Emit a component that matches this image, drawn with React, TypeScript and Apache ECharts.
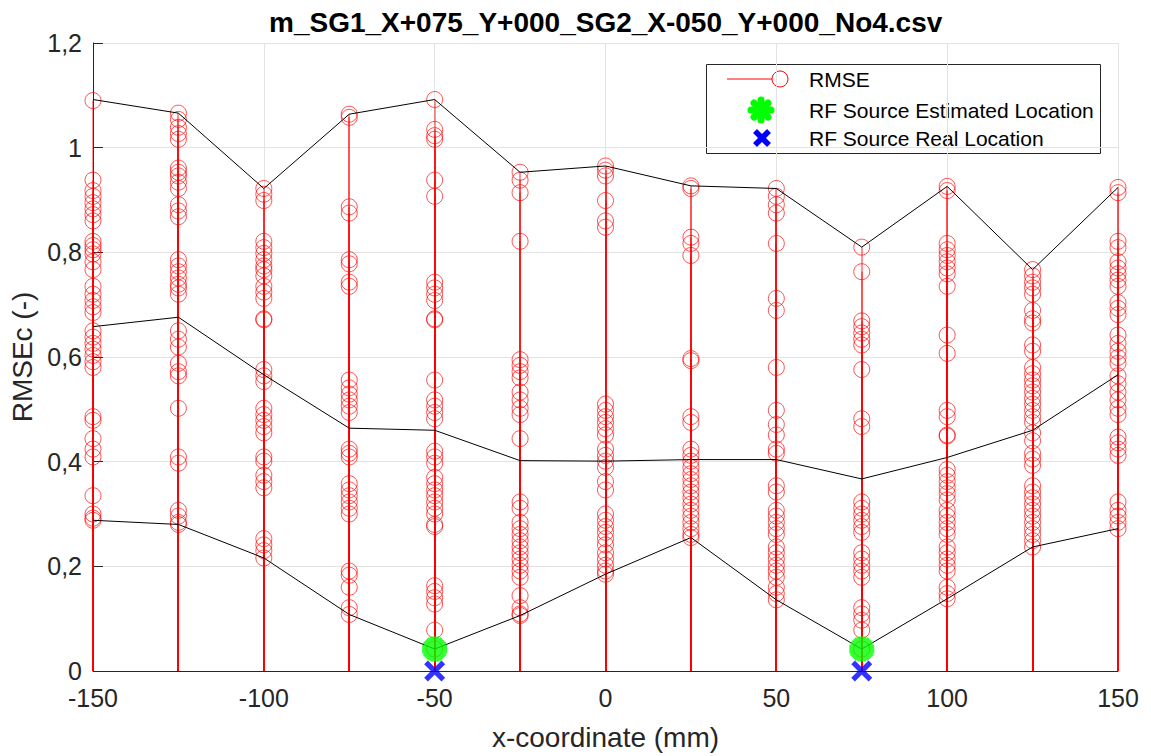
import React, { useEffect, useRef } from "react";
import * as echarts from "echarts";

const titleText = "m_SG1_X+075_Y+000_SG2_X-050_Y+000_No4.csv";
const xPositions = [-150, -125, -100, -75, -50, -25, 0, 25, 50, 75, 100, 125, 150];

const rmseAtM150 = [1.090, 0.938, 0.918, 0.907, 0.895, 0.883, 0.872, 0.860, 0.821, 0.813, 0.805, 0.797, 0.782, 0.767, 0.735, 0.720, 0.708, 0.696, 0.685, 0.650, 0.638, 0.626, 0.615, 0.603, 0.591, 0.580, 0.486, 0.479, 0.444, 0.424, 0.409, 0.335, 0.300, 0.292, 0.288];
const rmseAtM125 = [1.066, 1.054, 1.039, 1.027, 1.016, 0.961, 0.953, 0.946, 0.934, 0.922, 0.891, 0.879, 0.868, 0.786, 0.774, 0.763, 0.751, 0.739, 0.732, 0.720, 0.650, 0.634, 0.619, 0.588, 0.572, 0.564, 0.502, 0.409, 0.397, 0.307, 0.296, 0.284, 0.280];
const rmseAtM100 = [0.922, 0.911, 0.899, 0.821, 0.809, 0.798, 0.786, 0.774, 0.767, 0.755, 0.735, 0.724, 0.712, 0.673, 0.671, 0.576, 0.564, 0.553, 0.502, 0.490, 0.479, 0.467, 0.455, 0.409, 0.401, 0.374, 0.362, 0.350, 0.253, 0.241, 0.230, 0.216];
const rmseAtM75 = [1.064, 1.058, 0.887, 0.875, 0.786, 0.778, 0.743, 0.735, 0.556, 0.541, 0.529, 0.518, 0.506, 0.494, 0.424, 0.416, 0.409, 0.358, 0.346, 0.335, 0.323, 0.311, 0.300, 0.191, 0.183, 0.160, 0.121, 0.108];
const rmseAtM50 = [1.092, 1.035, 1.023, 1.016, 0.938, 0.907, 0.743, 0.732, 0.720, 0.708, 0.673, 0.671, 0.556, 0.518, 0.506, 0.494, 0.482, 0.420, 0.409, 0.397, 0.370, 0.358, 0.346, 0.335, 0.323, 0.311, 0.300, 0.280, 0.276, 0.163, 0.152, 0.140, 0.128, 0.078, 0.042];
const rmseAtM25 = [0.953, 0.938, 0.914, 0.821, 0.595, 0.584, 0.572, 0.560, 0.533, 0.518, 0.502, 0.490, 0.444, 0.323, 0.311, 0.284, 0.272, 0.261, 0.249, 0.237, 0.226, 0.214, 0.202, 0.191, 0.179, 0.144, 0.121, 0.109, 0.106];
const rmseAt0 = [0.965, 0.957, 0.946, 0.899, 0.860, 0.848, 0.510, 0.498, 0.486, 0.475, 0.463, 0.451, 0.424, 0.412, 0.401, 0.389, 0.362, 0.346, 0.300, 0.288, 0.276, 0.265, 0.253, 0.241, 0.226, 0.214, 0.202, 0.191, 0.185];
const rmseAt25 = [0.927, 0.922, 0.829, 0.817, 0.794, 0.597, 0.593, 0.486, 0.475, 0.424, 0.412, 0.401, 0.389, 0.377, 0.366, 0.354, 0.342, 0.331, 0.319, 0.307, 0.296, 0.284, 0.272, 0.261, 0.255];
const rmseAt50 = [0.922, 0.907, 0.891, 0.875, 0.817, 0.712, 0.689, 0.580, 0.498, 0.471, 0.451, 0.424, 0.416, 0.354, 0.342, 0.307, 0.296, 0.284, 0.272, 0.261, 0.237, 0.226, 0.214, 0.202, 0.191, 0.179, 0.160, 0.148, 0.136];
const rmseAt75 = [0.810, 0.763, 0.669, 0.658, 0.646, 0.634, 0.623, 0.576, 0.482, 0.467, 0.323, 0.311, 0.300, 0.288, 0.276, 0.265, 0.226, 0.214, 0.202, 0.191, 0.179, 0.121, 0.109, 0.097, 0.078, 0.042];
const rmseAt100 = [0.926, 0.918, 0.817, 0.805, 0.794, 0.782, 0.770, 0.759, 0.735, 0.642, 0.607, 0.498, 0.486, 0.451, 0.449, 0.385, 0.374, 0.362, 0.350, 0.339, 0.327, 0.307, 0.296, 0.284, 0.272, 0.261, 0.237, 0.226, 0.214, 0.202, 0.191, 0.160, 0.148, 0.138];
const rmseAt125 = [0.767, 0.755, 0.743, 0.732, 0.720, 0.689, 0.673, 0.665, 0.623, 0.611, 0.580, 0.568, 0.556, 0.545, 0.533, 0.521, 0.510, 0.498, 0.486, 0.475, 0.455, 0.440, 0.416, 0.405, 0.393, 0.354, 0.342, 0.331, 0.319, 0.307, 0.296, 0.284, 0.272, 0.261, 0.249, 0.237];
const rmseAt150 = [0.924, 0.914, 0.821, 0.809, 0.782, 0.770, 0.759, 0.747, 0.735, 0.704, 0.693, 0.681, 0.642, 0.626, 0.611, 0.599, 0.588, 0.564, 0.549, 0.533, 0.518, 0.502, 0.490, 0.447, 0.436, 0.424, 0.412, 0.323, 0.307, 0.296, 0.284, 0.272];

const maxLine = [1.092, 1.066, 0.922, 1.064, 1.092, 0.953, 0.965, 0.927, 0.922, 0.810, 0.926, 0.767, 0.924];
const meanLine = [0.658, 0.676, 0.566, 0.464, 0.460, 0.402, 0.401, 0.404, 0.404, 0.367, 0.408, 0.460, 0.566];
const minLine = [0.288, 0.280, 0.216, 0.108, 0.042, 0.106, 0.185, 0.255, 0.136, 0.042, 0.138, 0.237, 0.272];

const estimatedX = [-50, 75];
const estimatedY = [0.042, 0.042];
const realX = [-50, 75];
const realY = [0, 0];

const legendLabels = ["RMSE", "RF Source Estimated Location", "RF Source Real Location"];

const rmseColumns = [rmseAtM150, rmseAtM125, rmseAtM100, rmseAtM75, rmseAtM50, rmseAtM25, rmseAt0, rmseAt25, rmseAt50, rmseAt75, rmseAt100, rmseAt125, rmseAt150];

const FONT = "'Liberation Sans', Arial, Helvetica, sans-serif";

const ASTERISK =
  "path://M-3.5,-10L3.5,-10L3.5,10L-3.5,10Z" +
  "M-10,-3.5L10,-3.5L10,3.5L-10,3.5Z" +
  "M-9.55,-4.6L-4.6,-9.55L9.55,4.6L4.6,9.55Z" +
  "M-4.6,9.55L-9.55,4.6L4.6,-9.55L9.55,-4.6Z";
const CROSS =
  "path://M-12.1,-7.9L-7.9,-12.1L12.1,7.9L7.9,12.1Z" +
  "M-7.9,12.1L-12.1,7.9L7.9,-12.1L12.1,-7.9Z";

export default function App() {
  const ref = useRef<HTMLDivElement>(null);
  useEffect(() => {
    if (!ref.current) return;
    const chart = echarts.init(ref.current, undefined, { renderer: "svg" });
    const points: number[][] = [];
    rmseColumns.forEach((col, i) => col.forEach((v) => points.push([xPositions[i], v])));
    const zip = (ys: number[]) => xPositions.map((x, i) => [x, ys[i]]);

    const lx = 706, ly = 64;
    const option: any = {
      animation: false,
      backgroundColor: "#ffffff",
      textStyle: { fontFamily: FONT },
      title: {
        text: titleText,
        left: 264,
        top: 3,
        textStyle: { fontFamily: FONT, fontWeight: "bold", fontSize: 28, color: "#000" },
      },
      grid: { left: 93, right: 33, top: 43, bottom: 79, containLabel: false },
      xAxis: {
        type: "value",
        min: -150,
        max: 150,
        interval: 50,
        name: "x-coordinate (mm)",
        nameLocation: "middle",
        nameGap: 52,
        nameTextStyle: { fontFamily: FONT, fontSize: 28, color: "#262626" },
        axisLine: { show: true, onZero: false, lineStyle: { color: "#262626", width: 1 } },
        axisTick: { show: true, inside: true, length: 10, lineStyle: { color: "#262626" } },
        axisLabel: { fontFamily: FONT, fontSize: 25, color: "#262626", margin: 14 },
        splitLine: { show: true, lineStyle: { color: "#e3e3e3", width: 1 } },
      },
      yAxis: {
        type: "value",
        min: 0,
        max: 1.2,
        interval: 0.2,
        name: "RMSEc (-)",
        nameLocation: "middle",
        nameGap: 50,
        nameTextStyle: { fontFamily: FONT, fontSize: 28, color: "#262626" },
        axisLine: { show: true, onZero: false, lineStyle: { color: "#262626", width: 1 } },
        axisTick: { show: true, inside: true, length: 10, lineStyle: { color: "#262626" } },
        axisLabel: {
          fontFamily: FONT,
          fontSize: 25,
          color: "#262626",
          margin: 11,
          formatter: (v: number) => String(parseFloat(v.toFixed(1))).replace(".", ","),
        },
        splitLine: { show: true, lineStyle: { color: "#e3e3e3", width: 1 } },
      },
      series: [
        {
          type: "custom",
          name: "stems",
          data: points,
          encode: { x: 0, y: 1 },
          z: 2,
          renderItem: (params: any, api: any) => {
            const x = api.value(0);
            const y = api.value(1);
            const p0 = api.coord([x, 0]);
            const p1 = api.coord([x, y]);
            const px = Math.round(p0[0]);
            return {
              type: "line",
              shape: { x1: px, y1: p0[1], x2: px, y2: p1[1] },
              style: { stroke: "rgba(255,0,0,0.85)", lineWidth: 1 },
            };
          },
        },
        {
          type: "scatter",
          name: "RMSE",
          data: points,
          symbol: "circle",
          symbolSize: 16,
          z: 3,
          itemStyle: { color: "rgba(0,0,0,0)", borderColor: "rgba(255,0,0,0.85)", borderWidth: 1 },
        },
        { type: "line", name: "max", data: zip(maxLine), showSymbol: false, symbol: "none", z: 4, lineStyle: { color: "#000", width: 1 } },
        { type: "line", name: "mean", data: zip(meanLine), showSymbol: false, symbol: "none", z: 4, lineStyle: { color: "#000", width: 1 } },
        { type: "line", name: "min", data: zip(minLine), showSymbol: false, symbol: "none", z: 4, lineStyle: { color: "#000", width: 1 } },
        {
          type: "scatter",
          name: legendLabels[1],
          data: estimatedX.map((x, i) => [x, estimatedY[i]]),
          symbol: ASTERISK,
          symbolSize: 25,
          z: 5,
          itemStyle: { color: "#00ff00" },
        },
        {
          type: "scatter",
          name: legendLabels[2],
          data: realX.map((x, i) => [x, realY[i]]),
          symbol: CROSS,
          symbolSize: 21,
          z: 6,
          clip: false,
          itemStyle: { color: "#0000ff" },
        },
      ],
      graphic: [
        {
          type: "group",
          z: 100,
          children: [
            { type: "rect", shape: { x: lx + 0.5, y: ly + 0.5, width: 394, height: 89 }, style: { fill: "#fff", stroke: "#262626", lineWidth: 1 } },
            { type: "line", shape: { x1: 727, y1: 79, x2: 780, y2: 79 }, style: { stroke: "#ff0000", lineWidth: 1 } },
            { type: "circle", shape: { cx: 780, cy: 79, r: 8 }, style: { fill: "#fff", stroke: "#ff0000", lineWidth: 1 } },
            { type: "line", shape: { x1: 761, y1: 100, x2: 761, y2: 120 }, style: { stroke: "#00ff00", lineWidth: 7, lineCap: "round" } },
            { type: "line", shape: { x1: 751, y1: 110, x2: 771, y2: 110 }, style: { stroke: "#00ff00", lineWidth: 7, lineCap: "round" } },
            { type: "line", shape: { x1: 754, y1: 103, x2: 768, y2: 117 }, style: { stroke: "#00ff00", lineWidth: 7, lineCap: "round" } },
            { type: "line", shape: { x1: 754, y1: 117, x2: 768, y2: 103 }, style: { stroke: "#00ff00", lineWidth: 7, lineCap: "round" } },
            { type: "line", shape: { x1: 755, y1: 131, x2: 769, y2: 145 }, style: { stroke: "#0000ff", lineWidth: 5.5 } },
            { type: "line", shape: { x1: 755, y1: 145, x2: 769, y2: 131 }, style: { stroke: "#0000ff", lineWidth: 5.5 } },
            { type: "text", x: 809, y: 79, style: { text: legendLabels[0], font: `21px ${FONT}`, fill: "#000", verticalAlign: "middle" } },
            { type: "text", x: 809, y: 110, style: { text: legendLabels[1], font: `21px ${FONT}`, fill: "#000", verticalAlign: "middle" } },
            { type: "text", x: 809, y: 138, style: { text: legendLabels[2], font: `21px ${FONT}`, fill: "#000", verticalAlign: "middle" } },
          ],
        },
      ],
    };
    chart.setOption(option);
    return () => chart.dispose();
  }, []);
  return (
    <div
      ref={ref}
      style={{ position: "absolute", left: 0, top: 0, width: 1151, height: 756, background: "#fff" }}
    />
  );
}
